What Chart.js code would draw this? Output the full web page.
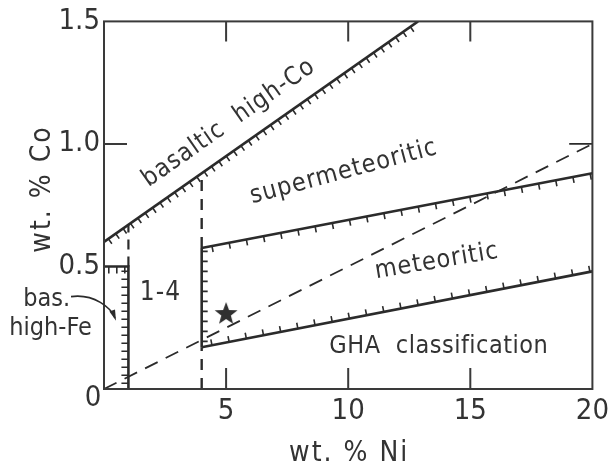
<!DOCTYPE html>
<html>
<head>
<meta charset="utf-8">
<script src="https://cdn.jsdelivr.net/npm/chart.js@4.4.1/dist/chart.umd.min.js"></script>
<style>
  html, body { margin: 0; padding: 0; background: #fff; }
  canvas { display: block; }
</style>
</head>
<body>
<canvas id="coNiChart" width="614" height="463"></canvas>
<script>
// axis ticks
const xTickValues = [5, 10, 15, 20];
const xTickLabels = ['5', '10', '15', '20'];
const yTickValues = [0.5, 1.0, 1.5];
const yTickLabels = ['0.5', '1.0', '1.5'];
const xInnerTicks = [5, 10, 15];
const yInnerTicks = [1.0];

// field boundaries, wt.% Ni vs wt.% Co
const basalticNi = [0, 12.86];
const basalticCo = [0.6, 1.5];
const metUpperNi = [4, 20];
const metUpperCo = [0.575, 0.88];
const metLowerNi = [4, 20];
const metLowerCo = [0.17, 0.48];
const metLeftNi = [4, 4];
const metLeftCo = [0.17, 0.575];
const highFeNi = [0, 1, 1];
const highFeCo = [0.5, 0.5, 0];
const dash1Ni = [1, 1];
const dash1Co = [0.5, 0.67];
const dash4UpNi = [4, 4];
const dash4UpCo = [0.575, 0.88];
const dash4LowNi = [4, 4];
const dash4LowCo = [0, 0.17];
const trendNi = [0, 20];
const trendCo = [0, 1.0];
const trendTipNi = [19.05, 20];
const trendTipCo = [1.0, 1.0];
const starNi = [5];
const starCo = [0.31];

// text in the plot
const regionLabels = ['basaltic  high-Co', 'supermeteoritic', 'meteoritic', 'GHA  classification', '1-4', 'bas.', 'high-Fe'];
const regionPlacement = [
    { ni: 5.11, co: 1.085, rot: -35, size: 25, gap: 1 },
    { ni: 9.82, co: 0.885, rot: -15, size: 25, gap: 1 },
    { ni: 13.63, co: 0.52, rot: -9.5, size: 25, gap: 1 },
    { ni: 13.71, co: 0.175, rot: 0, size: 25, gap: 0.5 },
    { ni: 2.31, co: 0.391, rot: 0, size: 26, gap: 1 },
    { ni: -2.35, co: 0.367, rot: 0, size: 25, gap: 0 },
    { ni: -2.19, co: 0.245, rot: 0, size: 25, gap: 0 }
];
const xTitle = 'wt. % Ni';
const yTitle = 'wt. % Co';

const FONT = '"Liberation Sans Narrow", "DejaVu Sans Condensed", "Liberation Sans", sans-serif';
const INK = '#2b2b2b';
const TEXT = '#333';

function makeStar(r) {
    const c = document.createElement('canvas');
    c.width = c.height = r * 2 + 2;
    const g = c.getContext('2d');
    g.fillStyle = '#303030';
    g.beginPath();
    for (let i = 0; i < 10; i++) {
        const rad = i % 2 === 0 ? r : r * 0.42;
        const a = -Math.PI / 2 + i * Math.PI / 5;
        const px = r + 1 + rad * Math.cos(a);
        const py = r + 1 + rad * Math.sin(a) + 1;
        i === 0 ? g.moveTo(px, py) : g.lineTo(px, py);
    }
    g.closePath();
    g.fill();
    return c;
}

function line(label, ni, co, extra) {
    return Object.assign({
        label,
        data: ni.map((x, i) => ({ x, y: co[i] })),
        showLine: true,
        borderColor: INK,
        borderWidth: 2.6,
        pointRadius: 0,
        fill: false,
        tension: 0
    }, extra || {});
}

const hatchPlugin = {
    id: 'hatch',
    afterDatasetsDraw(chart) {
        const ctx = chart.ctx;
        chart.data.datasets.forEach((ds, i) => {
            if (!ds.hatch) return;
            const pts = chart.getDatasetMeta(i).data;
            ctx.save();
            ctx.strokeStyle = INK;
            ctx.lineWidth = 1.6;
            ctx.beginPath();
            for (let k = 0; k < pts.length - 1; k++) {
                const a = pts[k], b = pts[k + 1];
                const dx = b.x - a.x, dy = b.y - a.y;
                const len = Math.hypot(dx, dy);
                const ux = dx / len, uy = dy / len;
                const nx = -uy * ds.hatch.side, ny = ux * ds.hatch.side;
                for (let t = ds.hatch.spacing * 0.6; t < len - 2; t += ds.hatch.spacing) {
                    const x0 = a.x + ux * t, y0 = a.y + uy * t;
                    ctx.moveTo(x0, y0);
                    ctx.lineTo(x0 + nx * ds.hatch.length, y0 + ny * ds.hatch.length);
                }
            }
            ctx.stroke();
            ctx.restore();
        });
    }
};

const framePlugin = {
    id: 'frame',
    afterDraw(chart) {
        const { ctx, chartArea: area, scales } = chart;
        const px = v => scales.x.getPixelForValue(v);
        const py = v => scales.y.getPixelForValue(v);
        ctx.save();
        ctx.strokeStyle = '#3a3a3a';
        ctx.lineWidth = 2;
        ctx.strokeRect(area.left, area.top, area.right - area.left, area.bottom - area.top);
        ctx.beginPath();
        xInnerTicks.forEach(v => {
            ctx.moveTo(px(v), area.bottom); ctx.lineTo(px(v), area.bottom - 21);
            ctx.moveTo(px(v), area.top); ctx.lineTo(px(v), area.top + 20);
        });
        yInnerTicks.forEach(v => {
            ctx.moveTo(area.left, py(v)); ctx.lineTo(area.left + 23, py(v));
        });
        ctx.stroke();

        // labels inside the diagram
        ctx.fillStyle = TEXT;
        ctx.textAlign = 'center';
        ctx.textBaseline = 'middle';
        regionLabels.forEach((txt, i) => {
            const p = regionPlacement[i];
            ctx.save();
            ctx.translate(px(p.ni), py(p.co));
            ctx.rotate(p.rot * Math.PI / 180);
            ctx.font = `${p.size}px ${FONT}`;
            ctx.letterSpacing = p.gap + 'px';
            ctx.fillText(txt, 0, 0);
            ctx.restore();
        });

        // corner zero
        ctx.font = `29px ${FONT}`;
        ctx.fillText('0', area.left - 11, area.bottom + 9);

        // curved pointer from "bas." to the high-Fe field
        const sx = px(-1.35), sy = py(0.377);
        const c1x = px(-0.4), c1y = py(0.39);
        const c2x = px(0.3), c2y = py(0.33);
        const ex = px(0.45), ey = py(0.29);
        ctx.strokeStyle = INK;
        ctx.lineWidth = 1.6;
        ctx.beginPath();
        ctx.moveTo(sx, sy);
        ctx.bezierCurveTo(c1x, c1y, c2x, c2y, ex, ey);
        ctx.stroke();
        const ang = Math.atan2(ey - c2y, ex - c2x);
        ctx.fillStyle = INK;
        ctx.beginPath();
        ctx.moveTo(ex + 3 * Math.cos(ang), ey + 3 * Math.sin(ang));
        ctx.lineTo(ex - 8 * Math.cos(ang) + 3 * Math.sin(ang), ey - 8 * Math.sin(ang) - 3 * Math.cos(ang));
        ctx.lineTo(ex - 8 * Math.cos(ang) - 3 * Math.sin(ang), ey - 8 * Math.sin(ang) + 3 * Math.cos(ang));
        ctx.closePath();
        ctx.fill();

        // axis titles
        ctx.fillStyle = TEXT;
        ctx.font = `28px ${FONT}`;
        ctx.letterSpacing = '2px';
        ctx.textBaseline = 'alphabetic';
        ctx.fillText(xTitle, (area.left + area.right) / 2 + 1, 461);
        ctx.save();
        ctx.translate(50, 189);
        ctx.rotate(-Math.PI / 2);
        ctx.fillText(yTitle, 0, 0);
        ctx.restore();
        ctx.restore();
    }
};

const starImg = makeStar(12);

new Chart(document.getElementById('coNiChart'), {
    type: 'scatter',
    data: {
        datasets: [
            line('basaltic high-Co', basalticNi, basalticCo, { hatch: { side: 1, spacing: 9, length: 6 } }),
            line('meteoritic upper', metUpperNi, metUpperCo, { hatch: { side: 1, spacing: 17.5, length: 6 } }),
            line('meteoritic lower', metLowerNi, metLowerCo, { hatch: { side: -1, spacing: 17.5, length: 6 } }),
            line('meteoritic left', metLeftNi, metLeftCo, { hatch: { side: 1, spacing: 10, length: 6 } }),
            line('bas. high-Fe', highFeNi, highFeCo, { hatch: { side: 1, spacing: 8, length: 7 } }),
            line('1-4 upper', dash1Ni, dash1Co, { borderDash: [10, 7], borderWidth: 2.2 }),
            line('4 upper', dash4UpNi, dash4UpCo, { borderDash: [11, 8], borderWidth: 2.4 }),
            line('4 lower', dash4LowNi, dash4LowCo, { borderDash: [11, 8], borderWidth: 2.4 }),
            line('Ni/Co = 20', trendNi, trendCo, { borderDash: [14, 9], borderWidth: 1.8 }),
            line('trend tip', trendTipNi, trendTipCo, { borderWidth: 1.8 }),
            {
                label: 'sample',
                data: starNi.map((x, i) => ({ x, y: starCo[i] })),
                pointStyle: starImg,
                pointRadius: 12,
                showLine: false
            }
        ]
    },
    options: {
        responsive: false,
        animation: false,
        layout: { padding: { top: 21, right: 17, left: 0, bottom: 0 } },
        plugins: { legend: { display: false }, tooltip: { enabled: false } },
        scales: {
            x: {
                type: 'linear',
                min: 0,
                max: 20,
                afterBuildTicks: s => { s.ticks = xTickValues.map(v => ({ value: v })); },
                afterFit: s => { s.height = 74; },
                grid: { display: false, drawTicks: false },
                border: { display: false },
                ticks: {
                    padding: 5,
                    color: TEXT,
                    font: { family: FONT, size: 29 },
                    callback: v => xTickLabels[xTickValues.indexOf(v)] ?? ''
                }
            },
            y: {
                type: 'linear',
                min: 0,
                max: 1.5,
                afterBuildTicks: s => { s.ticks = yTickValues.map(v => ({ value: v })); },
                afterFit: s => { s.width = 104; },
                grid: { display: false, drawTicks: false },
                border: { display: false },
                ticks: {
                    padding: 4,
                    color: TEXT,
                    font: { family: FONT, size: 29 },
                    callback: v => yTickLabels[yTickValues.indexOf(v)] ?? ''
                }
            }
        }
    },
    plugins: [hatchPlugin, framePlugin]
});
</script>
</body>
</html>
